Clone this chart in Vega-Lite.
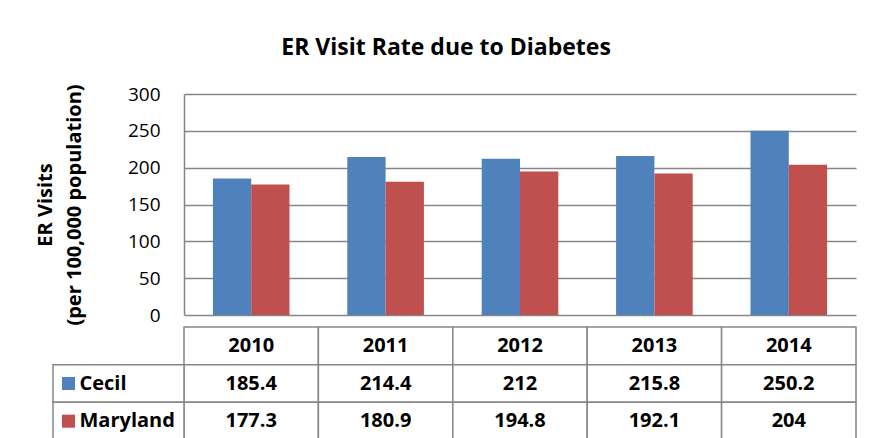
{
  "$schema": "https://vega.github.io/schema/vega-lite/v6.json",
  "padding": {"left": 35, "top": 36, "right": 10, "bottom": 5},
  "background": "white",
  "title": {"text": "ER Visit Rate due to Diabetes", "font": "Open Sans", "fontSize": 23, "fontWeight": "bold", "color": "black", "offset": 24, "anchor": "middle"},
  "config": {"view": {"stroke": null}, "font": "Open Sans"},
  "datasets": {
    "rates": [
      {"year": "2010", "series": "Cecil", "value": 185.4},
      {"year": "2010", "series": "Maryland", "value": 177.3},
      {"year": "2011", "series": "Cecil", "value": 214.4},
      {"year": "2011", "series": "Maryland", "value": 180.9},
      {"year": "2012", "series": "Cecil", "value": 212},
      {"year": "2012", "series": "Maryland", "value": 194.8},
      {"year": "2013", "series": "Cecil", "value": 215.8},
      {"year": "2013", "series": "Maryland", "value": 192.1},
      {"year": "2014", "series": "Cecil", "value": 250.2},
      {"year": "2014", "series": "Maryland", "value": 204}
    ],
    "years": [
      {"year": "2010", "row": "Year"},
      {"year": "2011", "row": "Year"},
      {"year": "2012", "row": "Year"},
      {"year": "2013", "row": "Year"},
      {"year": "2014", "row": "Year"}
    ],
    "seriesList": [
      {"series": "Cecil"},
      {"series": "Maryland"}
    ]
  },
  "spacing": 0,
  "resolve": {"scale": {"x": "independent", "y": "independent"}},
  "vconcat": [
    {
      "width": 672,
      "height": 221,
      "data": {"name": "rates"},
      "mark": {"type": "bar"},
      "encoding": {
        "x": {"field": "year", "type": "nominal", "scale": {"paddingInner": 0.43, "paddingOuter": 0.215}, "axis": null},
        "xOffset": {"field": "series", "type": "nominal", "scale": {"domain": ["Cecil", "Maryland"], "paddingInner": 0, "paddingOuter": 0}},
        "y": {"field": "value", "type": "quantitative", "scale": {"domain": [0, 300]},
          "axis": {"values": [0, 50, 100, 150, 200, 250, 300], "title": ["ER Visits", "(per 100,000 population)"], "titleFont": "Open Sans", "titleFontSize": 20, "titleFontWeight": "bold", "titleColor": "black", "titleLineHeight": 29, "titlePadding": 43, "labelFont": "Open Sans", "labelFontSize": 19, "labelColor": "black", "labelPadding": 24, "ticks": false, "tickSize": 0, "domainColor": "#868686", "domainWidth": 1.5, "grid": true, "gridColor": "#868686", "gridWidth": 1.5}},
        "color": {"field": "series", "type": "nominal", "scale": {"domain": ["Cecil", "Maryland"], "range": ["#4F81BD", "#C0504D"]}, "legend": null}
      }
    },
    {
      "width": 672,
      "height": 113,
      "resolve": {"scale": {"x": "independent"}},
      "layer": [
        {
          "data": {"name": "years"},
          "mark": {"type": "rect", "fill": "white", "stroke": "#868686", "strokeWidth": 1.5},
          "encoding": {
            "x": {"field": "year", "type": "nominal", "scale": {"paddingInner": 0, "paddingOuter": 0}, "axis": null},
            "y": {"field": "row", "type": "nominal", "scale": {"domain": ["Year", "Cecil", "Maryland"], "paddingInner": 0, "paddingOuter": 0}, "axis": null}
          }
        },
        {
          "data": {"name": "rates"},
          "mark": {"type": "rect", "fill": "white", "stroke": "#868686", "strokeWidth": 1.5},
          "encoding": {
            "x": {"field": "year", "type": "nominal", "scale": {"paddingInner": 0, "paddingOuter": 0}, "axis": null},
            "y": {"field": "series", "type": "nominal", "axis": null}
          }
        },
        {
          "data": {"name": "seriesList"},
          "mark": {"type": "rect", "fill": "white", "stroke": "#868686", "strokeWidth": 1.5},
          "encoding": {
            "x": {"datum": "label", "type": "nominal", "scale": {"domain": ["label"], "range": [-131, 0], "paddingInner": 0, "paddingOuter": 0}, "axis": null},
            "y": {"field": "series", "type": "nominal", "axis": null}
          }
        },
        {
          "data": {"name": "years"},
          "mark": {"type": "text", "font": "Open Sans", "fontSize": 20, "fontWeight": "bold", "color": "black"},
          "encoding": {
            "x": {"field": "year", "type": "nominal", "scale": {"paddingInner": 0, "paddingOuter": 0}, "axis": null},
            "y": {"field": "row", "type": "nominal", "axis": null},
            "text": {"field": "year", "type": "nominal"}
          }
        },
        {
          "data": {"name": "rates"},
          "mark": {"type": "text", "font": "Open Sans", "fontSize": 20, "fontWeight": "bold", "color": "black"},
          "encoding": {
            "x": {"field": "year", "type": "nominal", "scale": {"paddingInner": 0, "paddingOuter": 0}, "axis": null},
            "y": {"field": "series", "type": "nominal", "axis": null},
            "text": {"field": "value", "type": "quantitative"}
          }
        },
        {
          "data": {"name": "seriesList"},
          "mark": {"type": "text", "font": "Open Sans", "fontSize": 20, "fontWeight": "bold", "color": "black", "align": "left", "dx": -39},
          "encoding": {
            "x": {"datum": "label", "type": "nominal", "scale": {"domain": ["label"], "range": [-131, 0], "paddingInner": 0, "paddingOuter": 0}, "axis": null},
            "y": {"field": "series", "type": "nominal", "axis": null},
            "text": {"field": "series", "type": "nominal"}
          }
        },
        {
          "data": {"name": "seriesList"},
          "mark": {"type": "square", "size": 170, "opacity": 1, "filled": true, "xOffset": -50},
          "encoding": {
            "x": {"datum": "label", "type": "nominal", "scale": {"domain": ["label"], "range": [-131, 0], "paddingInner": 0, "paddingOuter": 0}, "axis": null},
            "y": {"field": "series", "type": "nominal", "axis": null},
            "color": {"field": "series", "type": "nominal", "scale": {"domain": ["Cecil", "Maryland"], "range": ["#4F81BD", "#C0504D"]}, "legend": null}
          }
        }
      ]
    }
  ]
}
